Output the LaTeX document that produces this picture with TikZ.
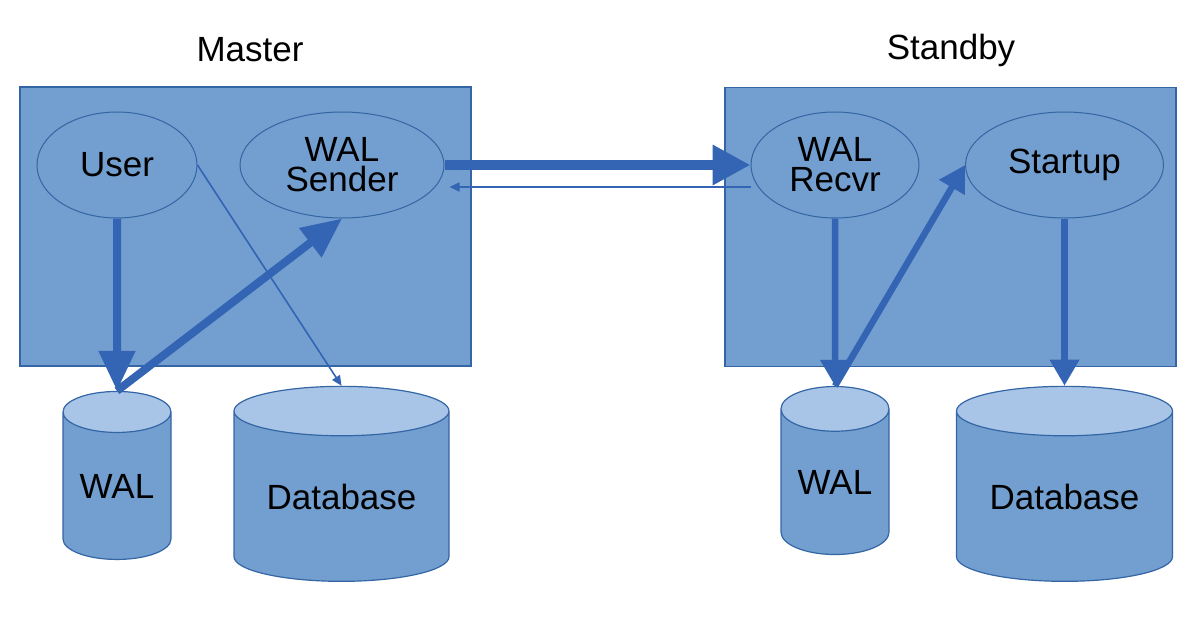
\documentclass[tikz,border=0pt]{standalone}
\usepackage{fontspec}
\setmainfont{Liberation Sans}
\usetikzlibrary{positioning}
\usetikzlibrary{arrows.meta}
\usetikzlibrary{shapes.geometric}
\definecolor{boxfill}{RGB}{114,159,207}
\definecolor{edgeblue}{RGB}{52,101,164}
\definecolor{arrowblue}{RGB}{52,100,180}
\definecolor{capfill}{RGB}{168,197,231}

\begin{document}
\begin{tikzpicture}[x=1pt,y=-1pt,font=\fontsize{35}{30}\selectfont,
  host/.style={rectangle,draw=edgeblue,fill=boxfill,line width=1.2pt,inner sep=0pt},
  proc/.style={ellipse,draw=edgeblue,fill=boxfill,line width=1pt,inner sep=0pt,minimum height=106pt,align=center},
  store/.style={cylinder,shape border rotate=90,draw=edgeblue,line width=1.2pt,inner sep=0pt,
    cylinder uses custom fill,cylinder body fill=boxfill,cylinder end fill=capfill},
  wide/.style={arrowblue,line width=8pt,-{Triangle[width=35pt,length=40pt]}},
  mid/.style={arrowblue,line width=6.5pt,-{Triangle[width=28pt,length=26pt]}},
  thin/.style={arrowblue,line width=1.6pt,-{Triangle[width=9pt,length=10pt]}}]
  \useasboundingbox (0,0) rectangle (1196,616);
  % hosts
  \node[host,minimum width=451pt,minimum height=279pt] (master)  at (245.5,226.5) {};
  \node[host,minimum width=451pt,minimum height=279pt] (standby) at (950.5,227)   {};
  \node (masterlbl)  at (250,50) {Master};
  \node (standbylbl) at (951,50) {Standby};
  %
  \node[proc,minimum width=160pt] (user)    at (117,165)    {User};
  \node[proc,minimum width=204pt] (sender)  at (342,165)    {WAL\\Sender};
  \node[proc,minimum width=168pt] (recvr)   at (835,165)    {WAL\\Recvr};
  \node[proc,minimum width=198pt] (startup) at (1064.5,165) {Startup};
  %
  \node[store,minimum width=108pt,minimum height=168pt,aspect=0.55] (walM) at (117,486)    {WAL};
  \node[store,minimum width=215pt,minimum height=195pt,aspect=0.33] (dbM)  at (341.5,496.5) {Database};
  \node[store,minimum width=108pt,minimum height=168pt,aspect=0.6]  (walS) at (835,482)    {WAL};
  \node[store,minimum width=216pt,minimum height=195pt,aspect=0.33] (dbS)  at (1064.5,496.5) {Database};
  %
  \draw[wide] (user.south) -- (walM.north);
  \draw[wide] (walM.north) -- (sender.south);
  \draw[thin] (user.east) -- (dbM.north);
  \draw[arrowblue,line width=10pt,-{Triangle[width=38pt,length=38pt]}] (sender.east) -- (recvr.west);
  \draw[thin] ([yshift=-22pt]recvr.west) -- ([yshift=-22pt,xshift=5pt]sender.east);
  \draw[mid] (recvr.south) -- (walS.north);
  \draw[mid] (walS.north) -- (startup.west);
  \draw[mid] (startup.south) -- (dbS.north);
\end{tikzpicture}
\end{document}
